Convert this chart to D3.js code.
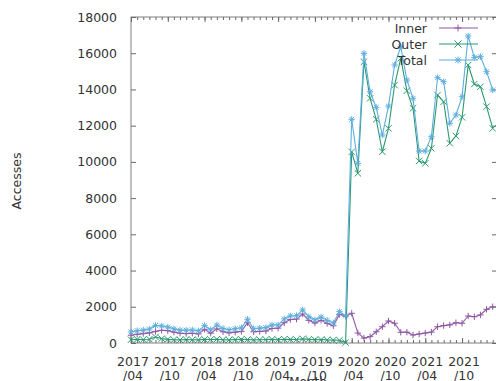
<!DOCTYPE html>
<html><head><meta charset="utf-8">
<script src="https://cdn.jsdelivr.net/npm/d3@7"></script>
<style>
html,body{margin:0;padding:0;background:#fff;overflow:hidden}
svg{display:block}
text{font-family:"DejaVu Sans",sans-serif;fill:#333}
</style></head><body>
<svg id="c" width="496" height="381"></svg>
<script>
// ---- data (monthly, 2017/04 .. 2022/03) ----
const inner = [430,480,520,560,640,700,680,600,540,520,540,500,760,540,780,620,560,600,640,1120,620,640,660,800,
  820,1120,1300,1320,1600,1250,1100,1250,1080,950,1580,1480,
  1640,550,270,350,620,900,1215,1090,590,600,440,500,550,600,900,960,1000,1120,1090,1490,1450,1550,1860,2000];
const outer = [180,200,190,210,330,240,200,180,170,190,180,170,200,190,210,180,170,190,200,190,170,180,190,200,
  180,210,200,190,230,200,180,190,170,160,150,20,
  10550,9370,15530,13510,12350,10560,11850,14240,15720,13930,12960,10050,9920,10750,13690,13320,11030,11430,12460,15350,14300,14150,13050,11850];
const total = [610,680,710,770,970,940,880,780,710,710,720,670,960,730,990,800,730,790,840,1310,790,820,850,1000,
  1000,1330,1500,1510,1830,1450,1280,1440,1250,1110,1730,1500,
  12350,9920,15990,13870,13010,11480,13080,15350,16360,14520,13510,10600,10600,11390,14650,14430,12130,12590,13600,16950,15770,15810,14980,13970];
const tickLabels = [["2017","/04"],["2017","/10"],["2018","/04"],["2018","/10"],["2019","/04"],
  ["2019","/10"],["2020","/04"],["2020","/10"],["2021","/04"],["2021","/10"]];
const yTicks = [0,2000,4000,6000,8000,10000,12000,14000,16000,18000];
const seriesNames = ["Inner","Outer","Total"];
const colors = ["#8f58a4","#2c9a6f","#5eaede"];
const markers = ["plus","cross","star"];

// ---- layout ----
const L = 131, R = 497, T = 17, B = 343;
const svg = d3.select("#c");
const x = d3.scaleLinear().domain([0, 59.7]).range([L, R]);
const y = d3.scaleLinear().domain([0, 18000]).range([B, T]);
const majors = tickLabels.map((d,i) => i*6);

// border
svg.append("rect").attr("x",L).attr("y",T).attr("width",R-L).attr("height",B-T)
  .attr("fill","none").attr("stroke","#808080").attr("stroke-width",1);

const axStyle = g => { g.select(".domain").remove(); g.selectAll("line").attr("stroke","#6a6a6a"); };

// y axes (left labels, right mirror ticks)
svg.append("g").attr("transform",`translate(${L},0)`)
  .call(d3.axisLeft(y).tickValues(yTicks).tickSize(-5).tickPadding(14).tickFormat(d3.format("d")))
  .call(axStyle)
  .call(g => g.selectAll("text").attr("font-size","12.5px").attr("fill","#333").attr("font-family","DejaVu Sans"));
svg.append("g").attr("transform",`translate(${R},0)`)
  .call(d3.axisRight(y).tickValues(yTicks).tickSize(-5).tickFormat(""))
  .call(axStyle);

// x axes: minor monthly + major
const xs = d3.range(0, 60);
svg.append("g").attr("transform",`translate(0,${B})`)
  .call(d3.axisBottom(x).tickValues(xs).tickSize(-3).tickFormat("")).call(axStyle);
svg.append("g").attr("transform",`translate(0,${T})`)
  .call(d3.axisTop(x).tickValues(xs).tickSize(-3).tickFormat("")).call(axStyle);
svg.append("g").attr("transform",`translate(0,${B})`)
  .call(d3.axisBottom(x).tickValues(majors).tickSize(-5).tickFormat("")).call(axStyle);
svg.append("g").attr("transform",`translate(0,${T})`)
  .call(d3.axisTop(x).tickValues(majors).tickSize(-5).tickFormat("")).call(axStyle);

// axis titles (drawn first: the tick labels sit over "Month" as in the reference)
svg.append("text").attr("x",308).attr("y",385.5).attr("text-anchor","middle")
  .attr("font-size","12px").attr("fill","#555").text("Month");
svg.append("text").attr("transform","translate(21,181) rotate(-90)").attr("text-anchor","middle")
  .attr("font-size","12.5px").attr("fill","#444").text("Accesses");

// x labels
const xl = svg.append("g").selectAll("text").data(tickLabels).join("text")
  .attr("text-anchor","middle").attr("font-size","12.5px");
xl.append("tspan").attr("x",(d,i)=>x(majors[i])+2).attr("y",365.5).text(d=>d[0]);
xl.append("tspan").attr("x",(d,i)=>x(majors[i])+2).attr("y",380).text(d=>d[1]);

// marker path generator
function mk(type, s){
  const p = `M${-s},0L${s},0M0,${-s}L0,${s}`;
  const c = `M${-s},${-s}L${s},${s}M${-s},${s}L${s},${-s}`;
  const c2 = `M${-s*0.75},${-s*0.75}L${s*0.75},${s*0.75}M${-s*0.75},${s*0.75}L${s*0.75},${-s*0.75}`;
  if (type==="plus") return p;
  if (type==="cross") return c;
  return p + c2;
}

const allData = [inner, outer, total];
const plot = svg.append("g");
allData.forEach((vals, si) => {
  const line = d3.line().x((d,i)=>x(i)).y(d=>y(d));
  plot.append("path").attr("d", line(vals)).attr("fill","none")
    .attr("stroke",colors[si]).attr("stroke-width",1.1);
  plot.append("g").selectAll("path").data(vals).join("path")
    .attr("transform",(d,i)=>`translate(${x(i)},${y(d)})`)
    .attr("d", mk(markers[si], 3.2)).attr("fill","none")
    .attr("stroke",colors[si]).attr("stroke-width",1);
});

// legend
const leg = svg.append("g");
seriesNames.forEach((name, i) => {
  const cy = 28 + i*16;
  leg.append("text").attr("x",427).attr("y",cy+4.5).attr("text-anchor","end")
    .attr("font-size","12.5px").attr("fill","#333").text(name);
  leg.append("line").attr("x1",439).attr("x2",478).attr("y1",cy).attr("y2",cy)
    .attr("stroke",colors[i]).attr("stroke-width",1.1);
  leg.append("path").attr("transform",`translate(458,${cy})`).attr("d",mk(markers[i],3.5))
    .attr("fill","none").attr("stroke",colors[i]).attr("stroke-width",1);
});
</script>
</body></html>
